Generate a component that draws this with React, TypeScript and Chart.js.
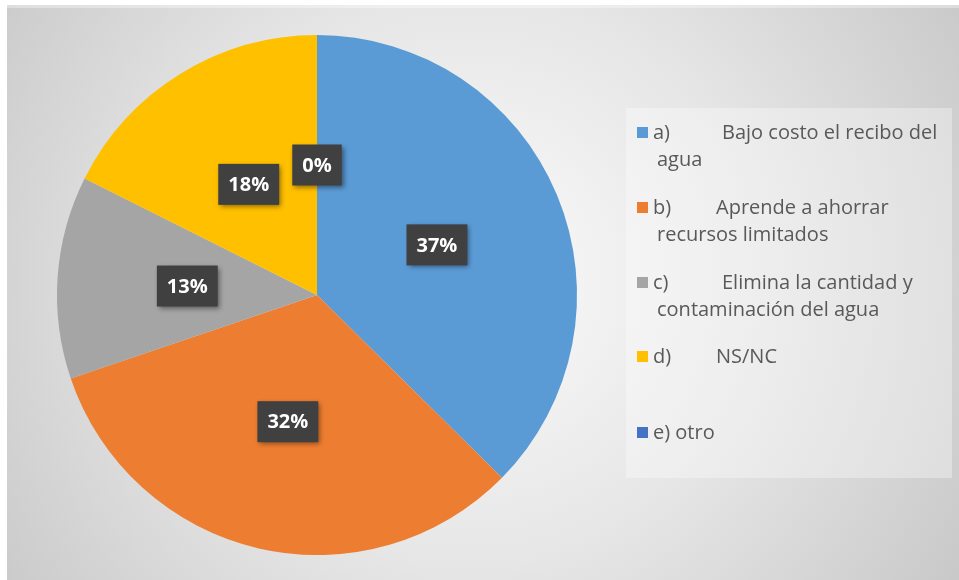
import React, { useEffect, useRef } from "react";
import { Chart, registerables } from "chart.js";

Chart.register(...registerables);

const categories = [
  "a) Bajo costo el recibo del agua",
  "b) Aprende a ahorrar recursos limitados",
  "c) Elimina la cantidad y contaminación del agua",
  "d) NS/NC",
  "e) otro",
];
const values = [37.4, 32.4, 12.6, 17.6, 0];
const colors = ["#5B9BD5", "#ED7D31", "#A5A5A5", "#FFC000", "#4472C4"];
const legendMarkers = ["a)", "b)", "c)", "d)", "e) otro"];
const legendFirstLines = ["Bajo costo el recibo del", "Aprende a ahorrar", "Elimina la cantidad y", "NS/NC", ""];
const legendSecondLines = ["agua", "recursos limitados", "contaminación del agua", "", ""];

const W = 959;
const H = 580;

const backgroundPlugin = {
  id: "bgPlugin",
  beforeDraw(chart: any) {
    const ctx = chart.ctx;
    ctx.save();
    ctx.fillStyle = "#ffffff";
    ctx.fillRect(0, 0, W, H);
    const g = ctx.createRadialGradient(470, 280, 30, 470, 280, 600);
    g.addColorStop(0, "#f9f9f9");
    g.addColorStop(0.45, "#e6e6e6");
    g.addColorStop(1, "#c6c6c6");
    ctx.fillStyle = g;
    ctx.fillRect(7, 5, W - 7, H - 5);
    ctx.fillStyle = "rgba(255,255,255,0.35)";
    ctx.fillRect(7, 5, W - 7, 3);
    ctx.fillStyle = "rgba(255,255,255,0.33)";
    ctx.fillRect(626, 108, 326, 370);
    ctx.restore();
  },
};

const legendPlugin = {
  id: "customLegend",
  afterDraw(chart: any) {
    const ctx = chart.ctx;
    ctx.save();
    const rowY = [132, 207, 282, 356, 432];
    const tabX = [722, 716, 722, 716, 0];
    ctx.font = "100px 'Open Sans'";
    const w100 = ctx.measureText(legendFirstLines[0]).width;
    let size = (100 * 223) / w100;
    if (size > 20) size = 20;
    ctx.font = `${size.toFixed(2)}px 'Open Sans'`;
    ctx.textBaseline = "middle";
    ctx.textAlign = "left";
    for (let i = 0; i < categories.length; i++) {
      const y = rowY[i];
      ctx.fillStyle = colors[i];
      ctx.fillRect(637, y - 5, 11, 11);
      ctx.fillStyle = "#595959";
      ctx.fillText(legendMarkers[i], 653, y + 1);
      if (legendFirstLines[i]) ctx.fillText(legendFirstLines[i], tabX[i], y + 1);
      if (legendSecondLines[i]) ctx.fillText(legendSecondLines[i], 657, y + 28);
    }
    ctx.restore();
  },
};

const dataLabelPlugin = {
  id: "boxLabels",
  afterDatasetsDraw(chart: any) {
    const ctx = chart.ctx;
    const meta = chart.getDatasetMeta(0);
    const total = values.reduce((a, b) => a + b, 0);
    ctx.save();
    ctx.font = "bold 20px 'Open Sans'";
    ctx.textAlign = "center";
    ctx.textBaseline = "middle";
    meta.data.forEach((arc: any, i: number) => {
      const p = arc.getCenterPoint();
      const txt = Math.round((values[i] / total) * 100) + "%";
      const tw = ctx.measureText(txt).width;
      const bw = tw + 20;
      const bh = 41;
      ctx.save();
      ctx.shadowColor = "rgba(0,0,0,0.45)";
      ctx.shadowBlur = 5;
      ctx.shadowOffsetX = 2;
      ctx.shadowOffsetY = 2;
      ctx.fillStyle = "#404040";
      ctx.fillRect(p.x - bw / 2, p.y - bh / 2, bw, bh);
      ctx.restore();
      ctx.fillStyle = "#ffffff";
      ctx.fillText(txt, p.x, p.y + 1);
    });
    ctx.restore();
  },
};

export default function App() {
  const ref = useRef<HTMLCanvasElement | null>(null);
  useEffect(() => {
    if (!ref.current) return;
    const chart = new Chart(ref.current, {
      type: "pie",
      data: {
        labels: categories,
        datasets: [
          {
            data: values,
            backgroundColor: colors,
            borderWidth: 0,
          },
        ],
      },
      options: {
        animation: false,
        responsive: false,
        maintainAspectRatio: false,
        layout: { padding: { left: 57, right: 382, top: 35, bottom: 25 } },
        plugins: {
          legend: { display: false },
          tooltip: { enabled: false },
        },
      },
      plugins: [backgroundPlugin, dataLabelPlugin, legendPlugin],
    });
    return () => chart.destroy();
  }, []);
  return (
    <div style={{ position: "fixed", left: 0, top: 0, width: W, height: H }}>
      <canvas ref={ref} width={W} height={H} style={{ width: W, height: H, display: "block" }} />
    </div>
  );
}
